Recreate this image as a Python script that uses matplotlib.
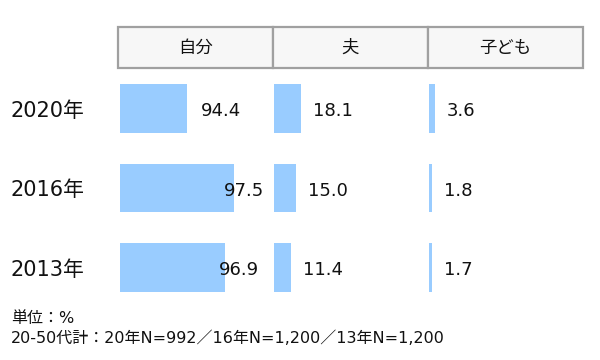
import matplotlib
matplotlib.use("Agg")
import matplotlib.pyplot as plt
from matplotlib.patches import Rectangle
from matplotlib.transforms import blended_transform_factory

plt.rcParams['font.family'] = ['DejaVu Sans', 'Noto Sans CJK JP']

years = ["2020年", "2016年", "2013年"]
panels = ["自分", "夫", "子ども"]
self_vals = [94.4, 97.5, 96.9]
husband_vals = [18.1, 15.0, 11.4]
child_vals = [3.6, 1.8, 1.7]
footer = ["単位：%", "20-50代計：20年N=992／16年N=1,200／13年N=1,200"]

BAR = "#99CCFF"
W, H = 600, 360
fig = plt.figure(figsize=(6, 3.6), dpi=100)

def fx(px):
    return px / W

def fy(py):
    return 1 - py / H

ax_top, ax_bot = 68.75, 307.25
bottom = fy(ax_bot)
height = (ax_bot - ax_top) / H

specs = [
    (self_vals, 120, 152, (90, 100)),
    (husband_vals, 273.5, 153, (0, 100)),
    (child_vals, 429, 153, (0, 100)),
]

axes = []
for vals, left, width, xlim in specs:
    ax = fig.add_axes([fx(left), bottom, width / W, height])
    ypos = list(range(len(vals)))
    ax.barh(ypos, [v - xlim[0] for v in vals], left=xlim[0], height=0.616,
            color=BAR, edgecolor="none")
    ax.set_xlim(*xlim)
    ax.set_ylim(2.5, -0.5)
    ax.axis("off")
    axes.append(ax)

# value labels for 自分 (placed on their own scale, as in the reference)
ax0 = axes[0]
axl = ax0.twiny()
axl.set_xlim(83.5, 104)
axl.set_ylim(2.5, -0.5)
axl.axis("off")
for i, v in enumerate(self_vals):
    axl.annotate(f"{v:.1f}", (v, i), xytext=(0, -2), textcoords="offset points",
                 ha="left", va="center", fontsize=13, color="#111111")

for ax, vals in zip(axes[1:], [husband_vals, child_vals]):
    for i, v in enumerate(vals):
        ax.annotate(f"{v:.1f}", (v, i), xytext=(8.6, -2), textcoords="offset points",
                    ha="left", va="center", fontsize=13, color="#111111")

# year labels
tr = blended_transform_factory(fig.transFigure, ax0.transData)
for i, y in enumerate(years):
    fig.text(fx(10), 0, y, transform=tr, fontsize=15, ha="left", va="center",
             color="#111111").set_y(i + 0.03)

# header cells
edges = [118, 273, 428, 583]
for k, name in enumerate(panels):
    x0, x1 = edges[k], edges[k + 1]
    fig.patches.append(Rectangle((fx(x0), fy(68)), (x1 - x0) / W, 41 / H,
                                 transform=fig.transFigure, facecolor="#F7F7F7",
                                 edgecolor="#A0A0A0", linewidth=1.6))
    fig.text(fx((x0 + x1) / 2), fy(47.5), name, ha="center", va="center",
             fontsize=12.5, color="#111111")

# footer
fig.text(fx(11), fy(319), footer[0], ha="left", va="center", fontsize=11.5, color="#111111")
fig.text(fx(11), fy(338), footer[1], ha="left", va="center", fontsize=11.5, color="#111111")

fig.savefig("out.png", dpi=100, facecolor="white")
